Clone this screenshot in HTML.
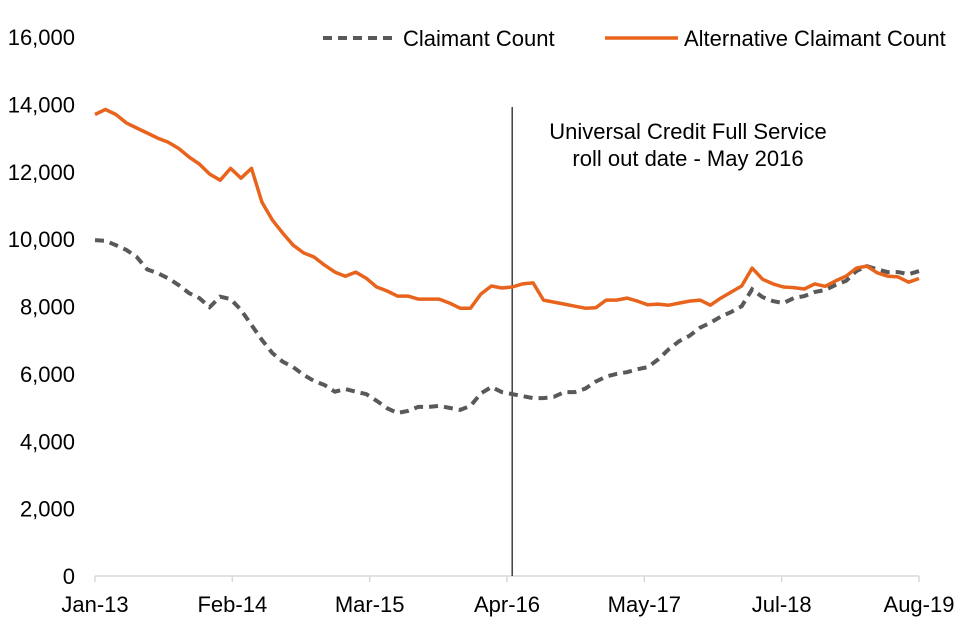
<!DOCTYPE html>
<html><head><meta charset="utf-8"><style>
body{margin:0;background:#fff;}
svg{display:block;font-family:"Liberation Sans",Arial,sans-serif;}
</style></head><body>
<svg id="chart" width="960" height="640" viewBox="0 0 960 640"></svg>
<script>
const yTicks=[0,2000,4000,6000,8000,10000,12000,14000,16000];
const xLabels=["Jan-13","Feb-14","Mar-15","Apr-16","May-17","Jul-18","Aug-19"];
const claimant=[9970,9950,9820,9680,9470,9100,8990,8840,8640,8400,8250,7980,8290,8220,7900,7450,7010,6620,6360,6200,5970,5790,5670,5470,5550,5470,5400,5200,4980,4840,4900,5020,5020,5050,4990,4930,5050,5420,5610,5460,5400,5340,5280,5280,5320,5460,5460,5560,5770,5920,6000,6050,6140,6200,6430,6730,6970,7130,7370,7520,7700,7840,8010,8510,8280,8160,8100,8250,8310,8430,8490,8640,8760,9050,9200,9100,9020,9020,8960,9050];
const alternative=[13700,13850,13700,13450,13300,13150,13000,12880,12700,12440,12230,11930,11750,12100,11810,12100,11100,10570,10180,9820,9590,9470,9230,9020,8900,9020,8840,8580,8460,8310,8310,8220,8220,8220,8100,7950,7950,8370,8610,8550,8580,8670,8700,8190,8130,8070,8010,7950,7960,8190,8190,8250,8160,8050,8070,8040,8100,8160,8190,8040,8250,8430,8610,9140,8810,8670,8580,8560,8520,8670,8600,8760,8900,9140,9200,9000,8900,8880,8720,8830];
const markerIndex=40;
const NS="http://www.w3.org/2000/svg";
const svg=document.getElementById('chart');
const X0=95,X1=919,Y0=576,Y1=37,YMAX=16000;
const FS=22;
const n=claimant.length;
function xs(i){return X0+(X1-X0)*i/(n-1);}
function ys(v){return Y0-(Y0-Y1)*v/YMAX;}
function mk(tag,attrs){const e=document.createElementNS(NS,tag);for(const k in attrs)e.setAttribute(k,attrs[k]);svg.appendChild(e);return e;}
yTicks.forEach(v=>{
  const t=mk('text',{x:75,y:ys(v)+8,'text-anchor':'end','font-size':FS,fill:'#000'});
  t.textContent=v.toLocaleString('en-US');
  
  
});
const ax=mk('line',{x1:X0,y1:Y0,x2:X1,y2:Y0,stroke:'#d9d9d9','stroke-width':1.5});


xLabels.forEach((l,i)=>{
  const x=X0+(X1-X0)*i/(xLabels.length-1);
  const tk=mk('line',{x1:x,y1:Y0,x2:x,y2:Y0+6,stroke:'#d9d9d9','stroke-width':1.5});
  
  
  const t=mk('text',{x:x,y:612,'text-anchor':'middle','font-size':FS,fill:'#000'});
  t.textContent=l;
  
  
});
const mx=xs(markerIndex);
const ml=mk('line',{x1:mx,y1:107,x2:mx,y2:Y0,stroke:'#404040','stroke-width':1.5});


[["Universal Credit Full Service",139],["roll out date - May 2016",166]].forEach(([s,y])=>{
  const t=mk('text',{x:688,y:y,'text-anchor':'middle','font-size':FS,fill:'#000'});
  t.textContent=s;
  
  
});
function path(arr){return arr.map((v,i)=>(i?'L':'M')+xs(i).toFixed(1)+' '+ys(v).toFixed(1)).join(' ');}
const p1=mk('path',{d:path(claimant),fill:'none',stroke:'#595959','stroke-width':4,'stroke-dasharray':'9 6'});


const p2=mk('path',{d:path(alternative),fill:'none',stroke:'#e8641c','stroke-width':3.5,'stroke-linejoin':'round'});


const l1=mk('line',{x1:323,y1:38,x2:397,y2:38,stroke:'#595959','stroke-width':4,'stroke-dasharray':'9 6'});


const lt1=mk('text',{x:403,y:46,'font-size':FS,fill:'#000'});
lt1.textContent='Claimant Count';


const l2=mk('line',{x1:605,y1:38,x2:678,y2:38,stroke:'#e8641c','stroke-width':3.5});


const lt2=mk('text',{x:684,y:46,'font-size':FS,fill:'#000'});
lt2.textContent='Alternative Claimant Count';


</script>
</body></html>
